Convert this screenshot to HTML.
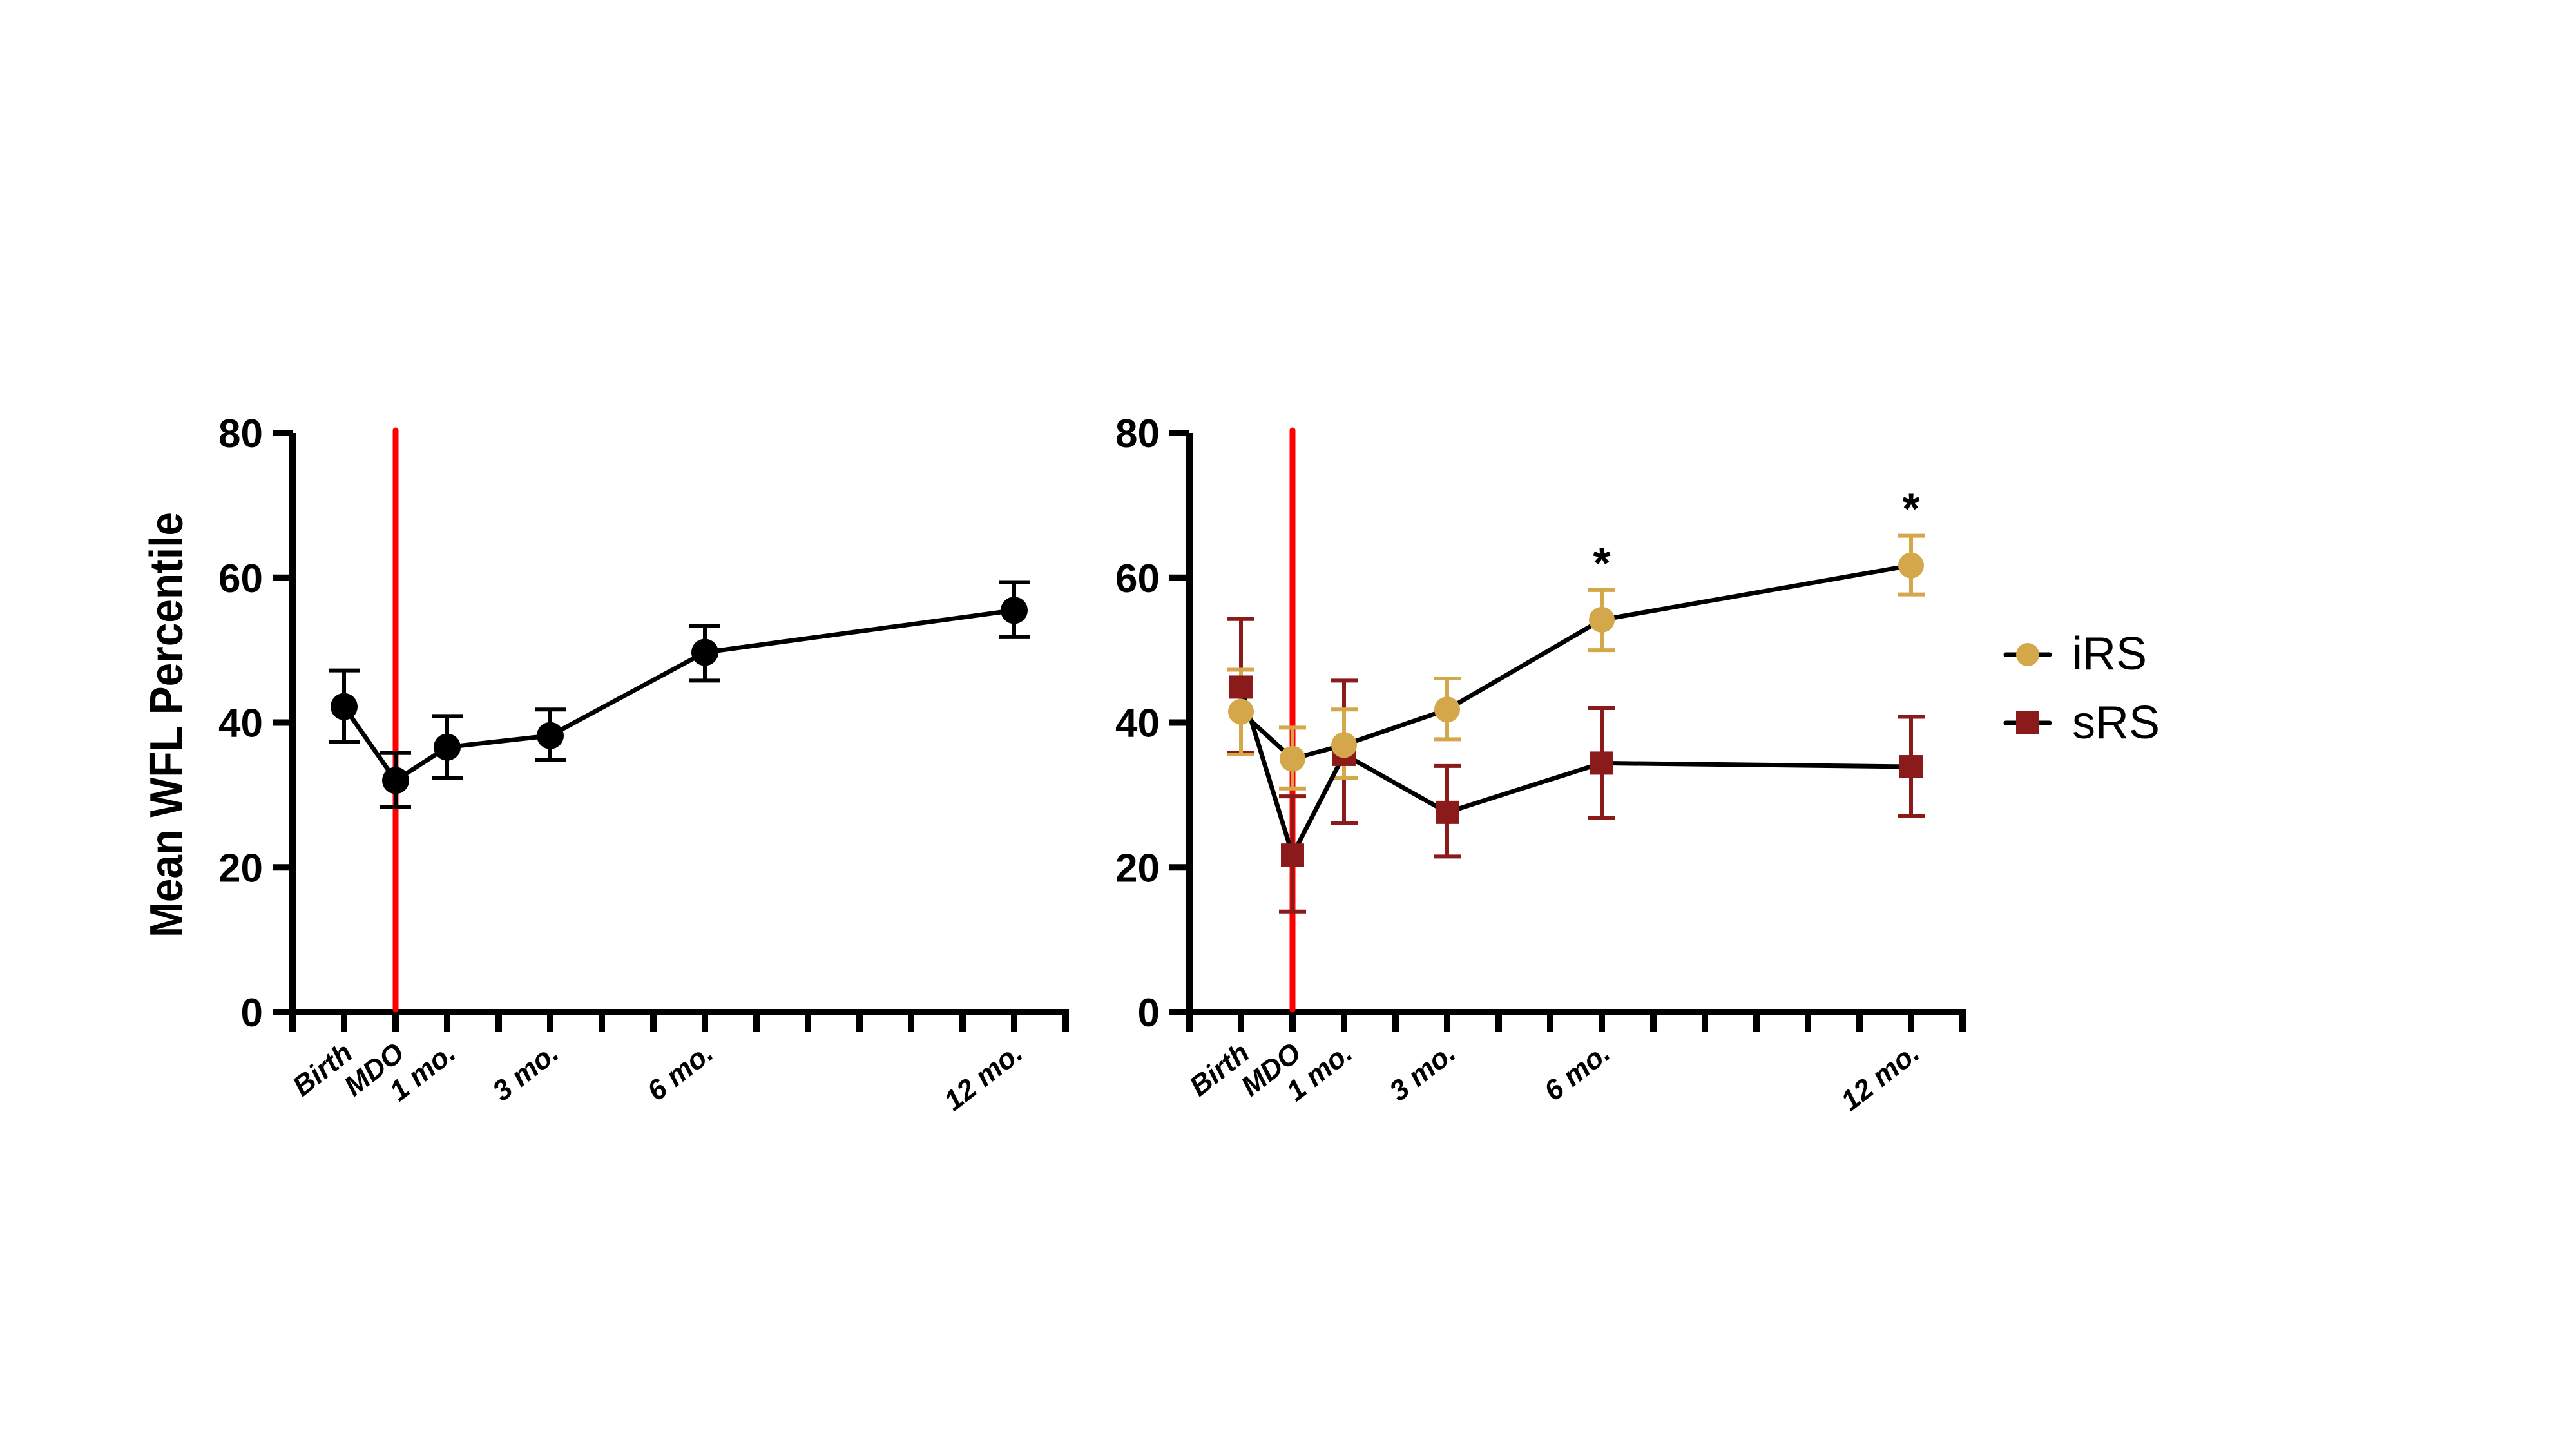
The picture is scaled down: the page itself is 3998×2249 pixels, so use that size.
<!DOCTYPE html>
<html><head><meta charset="utf-8"><style>html,body{margin:0;padding:0;background:#fff}svg{display:block}</style></head>
<body>
<svg id="chart" width="3998" height="2249" xmlns="http://www.w3.org/2000/svg" font-family="Liberation Sans, sans-serif">
<rect width="3998" height="2249" fill="#fff"/>
<g id="left"></g>
<g id="right"></g>
<text transform="translate(283,1125) rotate(-90)" text-anchor="middle" font-size="72" font-weight="bold" textLength="660" lengthAdjust="spacingAndGlyphs">Mean WFL Percentile</text>
<g>
  <g>
    <line x1="3113" y1="1016" x2="3181" y2="1016" stroke="#000" stroke-width="7" stroke-linecap="round"/>
    <circle cx="3147" cy="1016" r="18" fill="#D4A74A"/>
    <text x="3216" y="1039" font-size="72">iRS</text>
  </g>
  <g>
    <line x1="3113" y1="1122" x2="3181" y2="1122" stroke="#000" stroke-width="7" stroke-linecap="round"/>
    <rect x="3129" y="1104" width="36" height="36" fill="#8B1A1A"/>
    <text x="3216" y="1146" font-size="72">sRS</text>
  </g>
</g>
</svg>
<script>
const categories = ["Birth","MDO","1 mo.","3 mo.","6 mo.","12 mo."];
const catIndex = [1,2,3,5,8,14];
const yTicks = [0,20,40,60,80];
const allMean = [42.2,32.0,36.6,38.2,49.7,55.5];
const allLo = [37.3,28.3,32.3,34.8,45.8,51.8];
const allHi = [47.2,35.8,40.9,41.8,53.3,59.4];
const irsMean = [41.5,35.0,36.9,41.8,54.2,61.7];
const irsLo = [35.6,30.9,32.3,37.7,50.0,57.7];
const irsHi = [47.3,39.3,41.8,46.1,58.3,65.8];
const srsMean = [44.9,21.7,35.6,27.6,34.4,33.9];
const srsLo = [35.8,13.9,26.1,21.5,26.8,27.1];
const srsHi = [54.3,29.8,45.8,34.0,42.0,40.8];
const sigFlags = [0,0,0,0,1,1];

const NS="http://www.w3.org/2000/svg";
function mk(parent,tag,attrs){const e=document.createElementNS(NS,tag);for(const k in attrs)e.setAttribute(k,attrs[k]);parent.appendChild(e);return e;}
const Y0=1571, Y80=672;
function yS(v){return Y0+(Y80-Y0)*v/80;}

function axes(g,x0){
  const xS=i=>x0+80*i;
  let a=mk(g,'line',{x1:x0,y1:Y80,x2:x0,y2:Y0+5,stroke:'#000','stroke-width':10});
  
  
  a=mk(g,'line',{x1:x0-5,y1:Y0,x2:xS(15)+5,y2:Y0,stroke:'#000','stroke-width':10});
  
  
  for(let i=0;i<=15;i++){
    const t=mk(g,'line',{x1:xS(i),y1:Y0,x2:xS(i),y2:1602,stroke:'#000','stroke-width':10});
    
    
  }
  yTicks.forEach(v=>{
    const t=mk(g,'line',{x1:x0-31,y1:yS(v),x2:x0,y2:yS(v),stroke:'#000','stroke-width':10});
    
    
    const l=mk(g,'text',{x:x0-46,y:yS(v)+22,'text-anchor':'end','font-size':62,'font-weight':'bold'});
    l.textContent=String(v);
    
    
  });
  categories.forEach((c,k)=>{
    const x=xS(catIndex[k])+16;
    const l=mk(g,'text',{transform:`translate(${x},1640) rotate(-38)`,'text-anchor':'end','font-size':44,'font-weight':'bold','font-style':'italic'});
    l.textContent=c;
    
    
  });
  const r=mk(g,'line',{x1:xS(2),y1:Y80-4,x2:xS(2),y2:Y0-4,stroke:'#FF0000','stroke-width':9,'stroke-linecap':'round'});
  
  
  return xS;
}
function series(g,xS,mean,lo,hi,color,shape,name,cap){
  mean.forEach((m,k)=>{
    const x=xS(catIndex[k]);
    const e=mk(g,'path',{d:`M${x-cap/2},${yS(hi[k])}H${x+cap/2}M${x},${yS(hi[k])}V${yS(lo[k])}M${x-cap/2},${yS(lo[k])}H${x+cap/2}`,stroke:color,'stroke-width':6,fill:'none'});
    
    
  });
}
function line(g,xS,mean,name){
  const p=mk(g,'polyline',{points:mean.map((m,k)=>xS(catIndex[k])+','+yS(m)).join(' '),stroke:'#000','stroke-width':7,fill:'none','stroke-linejoin':'round'});
  
  
}
function markers(g,xS,mean,color,shape,name,size){
  mean.forEach((m,k)=>{
    const x=xS(catIndex[k]),y=yS(m);
    let e;
    if(shape==='c') e=mk(g,'circle',{cx:x,cy:y,r:size,fill:color});
    else e=mk(g,'rect',{x:x-size,y:y-size,width:2*size,height:2*size,fill:color});
    
    
  });
}
const L=document.getElementById('left'), R=document.getElementById('right');
const xL=axes(L,454);
series(L,xL,allMean,allLo,allHi,'#000','c','overall',48);
line(L,xL,allMean,'overall');
markers(L,xL,allMean,'#000','c','overall',21);
const xR=axes(R,1846);
series(R,xR,srsMean,srsLo,srsHi,'#8B1A1A','s','srs',42);
series(R,xR,irsMean,irsLo,irsHi,'#D4A74A','c','irs',42);
line(R,xR,srsMean,'srs');
line(R,xR,irsMean,'irs');
markers(R,xR,srsMean,'#8B1A1A','s','srs',18);
markers(R,xR,irsMean,'#D4A74A','c','irs',20);
sigFlags.forEach((f,k)=>{
  if(!f) return;
  const t=mk(R,'text',{x:xR(catIndex[k]),y:yS(irsHi[k])-18,'text-anchor':'middle','font-size':70,'font-weight':'bold'});
  t.textContent='*';
  
  
});
</script>
</body></html>
